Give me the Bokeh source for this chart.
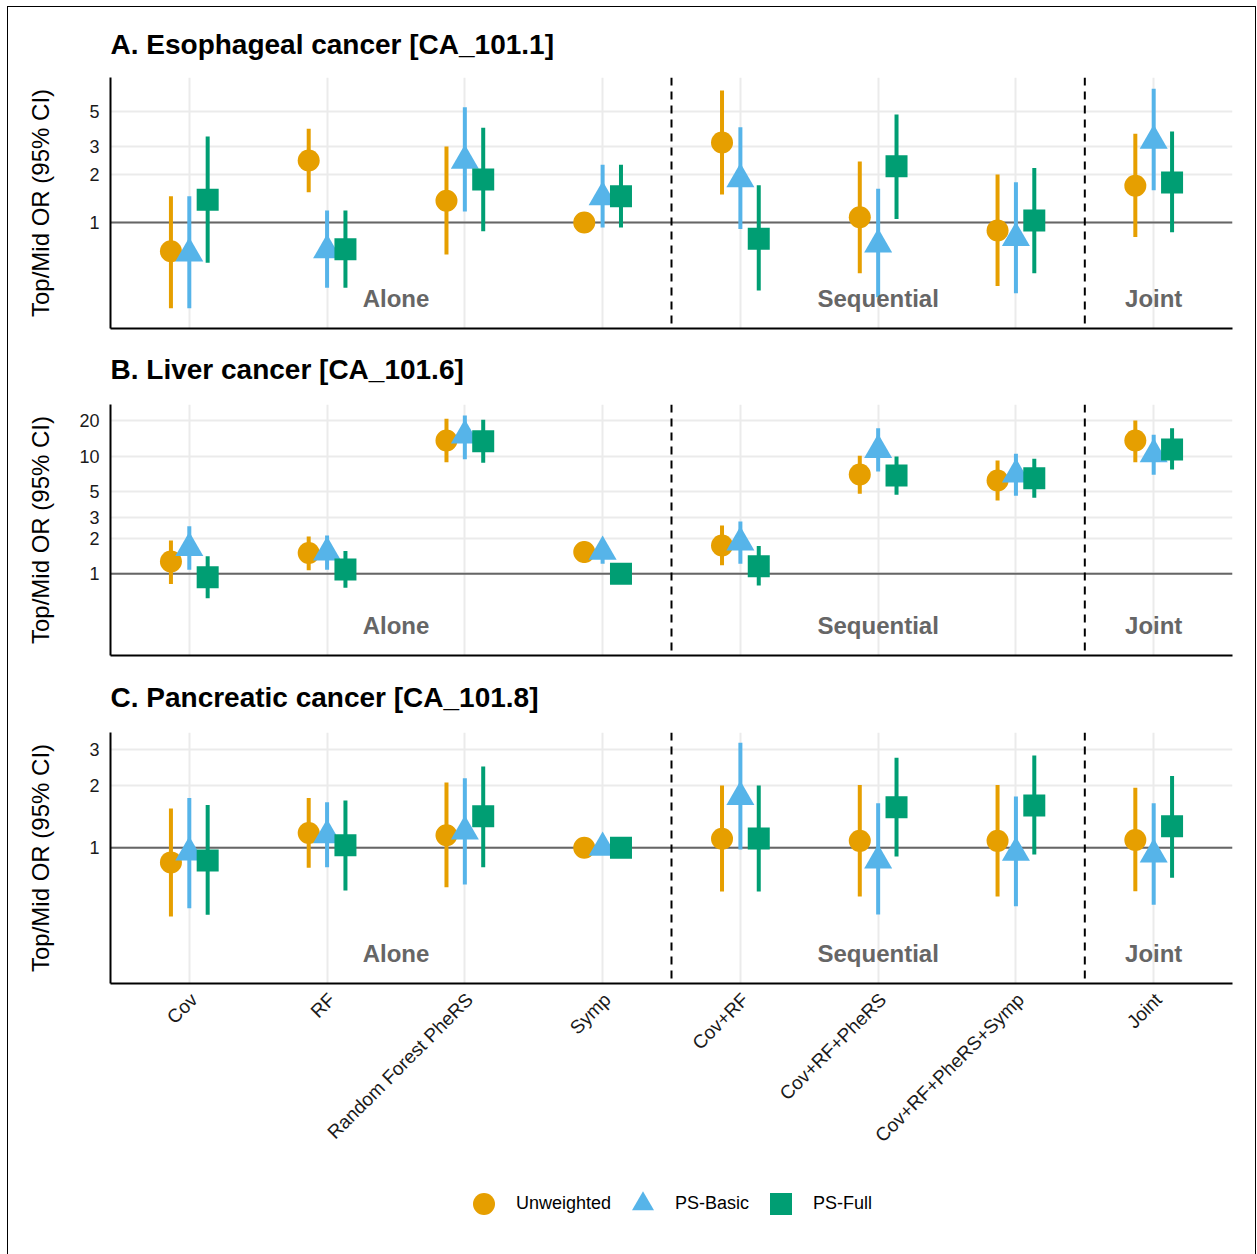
from math import pi
from bokeh.plotting import figure
from bokeh.models import (ColumnDataSource, Range1d, FixedTicker, Span, Label,
                          Legend, LegendItem, NumeralTickFormatter)
from bokeh.layouts import column
from bokeh.embed import file_html
from bokeh.resources import INLINE

FONT = "Liberation Sans"

categories = ["Cov", "RF", "Random Forest PheRS", "Symp", "Cov+RF",
              "Cov+RF+PheRS", "Cov+RF+PheRS+Symp", "Joint"]
groups = ["Alone", "Alone", "Alone", "Alone", "Sequential", "Sequential",
          "Sequential", "Joint"]
methods = ["Unweighted", "PS-Basic", "PS-Full"]
colors = ["#E69F00", "#56B4E9", "#009E73"]
markers = ["circle", "triangle", "square"]
marker_sizes = [22, 28, 22]

# ---- A. Esophageal cancer ----
esoph_unw_or = [0.66, 2.45, 1.37, 1.00, 3.17, 1.08, 0.89, 1.70]
esoph_unw_lo = [0.29, 1.55, 0.63, 1.00, 1.50, 0.48, 0.40, 0.81]
esoph_unw_hi = [1.46, 3.87, 3.00, 1.00, 6.72, 2.41, 2.00, 3.60]
esoph_bas_or = [0.64, 0.67, 2.44, 1.44, 1.87, 0.73, 0.80, 3.26]
esoph_bas_lo = [0.29, 0.39, 1.17, 0.93, 0.91, 0.34, 0.36, 1.59]
esoph_bas_hi = [1.46, 1.19, 5.28, 2.30, 3.96, 1.63, 1.79, 6.89]
esoph_ful_or = [1.39, 0.68, 1.86, 1.46, 0.79, 2.25, 1.03, 1.78]
esoph_ful_lo = [0.56, 0.39, 0.88, 0.93, 0.375, 1.05, 0.48, 0.87]
esoph_ful_hi = [3.46, 1.19, 3.92, 2.30, 1.71, 4.75, 2.20, 3.72]

# ---- B. Liver cancer ----
liver_unw_or = [1.27, 1.50, 13.6, 1.53, 1.74, 6.99, 6.21, 13.6]
liver_unw_lo = [0.82, 1.07, 8.9, 1.24, 1.18, 4.79, 4.20, 8.9]
liver_unw_hi = [1.92, 2.08, 20.8, 1.88, 2.58, 10.1, 9.19, 20.1]
liver_bas_or = [1.66, 1.52, 15.0, 1.54, 1.85, 11.3, 7.0, 10.4]
liver_bas_lo = [1.08, 1.08, 9.4, 1.22, 1.22, 7.41, 4.6, 6.95]
liver_bas_hi = [2.54, 2.12, 22.2, 1.90, 2.78, 17.3, 10.5, 15.2]
liver_ful_or = [0.935, 1.09, 13.4, 1.00, 1.16, 6.85, 6.5, 11.4]
liver_ful_lo = [0.62, 0.76, 8.8, 1.00, 0.795, 4.70, 4.43, 7.7]
liver_ful_hi = [1.41, 1.56, 20.4, 1.00, 1.72, 9.94, 9.5, 17.3]

# ---- C. Pancreatic cancer ----
panc_unw_or = [0.85, 1.18, 1.15, 1.00, 1.105, 1.08, 1.08, 1.09]
panc_unw_lo = [0.466, 0.80, 0.645, 1.00, 0.615, 0.582, 0.582, 0.617]
panc_unw_hi = [1.55, 1.74, 2.07, 1.00, 2.00, 2.01, 2.01, 1.95]
panc_bas_or = [0.95, 1.15, 1.20, 1.00, 1.76, 0.87, 0.946, 0.93]
panc_bas_lo = [0.51, 0.806, 0.665, 1.00, 0.98, 0.476, 0.522, 0.53]
panc_bas_hi = [1.74, 1.66, 2.17, 1.00, 3.22, 1.64, 1.77, 1.64]
panc_ful_or = [0.868, 1.03, 1.42, 1.00, 1.11, 1.57, 1.60, 1.27]
panc_ful_lo = [0.475, 0.622, 0.806, 1.00, 0.615, 0.908, 0.928, 0.716]
panc_ful_hi = [1.61, 1.69, 2.47, 1.00, 2.00, 2.72, 2.79, 2.22]

titles = ["A. Esophageal cancer [CA_101.1]", "B. Liver cancer [CA_101.6]",
          "C. Pancreatic cancer [CA_101.8]"]
y_ticks = [[1, 2, 3, 5], [1, 2, 3, 5, 10, 20], [1, 2, 3]]
y_limits = [(0.2165, 8.11), (0.202, 27.5), (0.221, 3.605)]

panel_data = [
    [(esoph_unw_or, esoph_unw_lo, esoph_unw_hi),
     (esoph_bas_or, esoph_bas_lo, esoph_bas_hi),
     (esoph_ful_or, esoph_ful_lo, esoph_ful_hi)],
    [(liver_unw_or, liver_unw_lo, liver_unw_hi),
     (liver_bas_or, liver_bas_lo, liver_bas_hi),
     (liver_ful_or, liver_ful_lo, liver_ful_hi)],
    [(panc_unw_or, panc_unw_lo, panc_unw_hi),
     (panc_bas_or, panc_bas_lo, panc_bas_hi),
     (panc_ful_or, panc_ful_lo, panc_ful_hi)],
]

positions = list(range(1, len(categories) + 1))
dodge_width = 0.4
label_shift = 0.035  # small nudge so rotated labels end just right of each tick

group_names = []
for g in groups:
    if g not in group_names:
        group_names.append(g)
group_centers = {g: sum(p for p, gg in zip(positions, groups) if gg == g) /
                 groups.count(g) for g in group_names}
boundaries = [positions[i] + 0.5 for i in range(len(groups) - 1)
              if groups[i] != groups[i + 1]]

border_top = [70, 74, 75]
border_bottom = [2, 2, 170]
title_standoff = [36, 40, 40]


def make_panel(idx):
    last = idx == 2
    p = figure(frame_width=1122, frame_height=251,
               x_range=Range1d(0.428, 8.572),
               y_range=Range1d(*y_limits[idx]), y_axis_type="log",
               output_backend="svg", toolbar_location=None,
               min_border_left=102, min_border_right=23,
               min_border_top=border_top[idx],
               min_border_bottom=border_bottom[idx])
    p.outline_line_color = None
    p.background_fill_color = "white"
    p.border_fill_color = "white"

    p.title.text = titles[idx]
    p.title.text_font = FONT
    p.title.text_font_size = "28px"
    p.title.text_font_style = "bold"
    p.title.text_color = "black"
    p.title.align = "left"
    p.title.standoff = title_standoff[idx]

    # axes
    p.yaxis.ticker = FixedTicker(ticks=y_ticks[idx])
    p.yaxis.formatter = NumeralTickFormatter(format="0")
    if last:
        shifted = [pos + label_shift for pos in positions]
        p.xaxis.ticker = FixedTicker(ticks=shifted)
        p.xaxis.major_label_overrides = {s: c for s, c in zip(shifted, categories)}
        p.xaxis.major_label_orientation = pi / 4
        p.xaxis.major_label_standoff = 13
    else:
        p.xaxis.ticker = FixedTicker(ticks=[])
    for ax in (p.xaxis, p.yaxis):
        ax.axis_line_color = "black"
        ax.axis_line_width = 2
        ax.major_tick_line_color = None
        ax.minor_tick_line_color = None
        ax.major_tick_out = 0
        ax.major_tick_in = 0
        ax.major_label_text_font = FONT
        ax.major_label_text_color = "#1a1a1a"
    p.xaxis.major_label_text_font_size = "19px"
    p.yaxis.major_label_text_font_size = "18px"
    p.yaxis.major_label_standoff = 11
    p.yaxis.axis_label = "Top/Mid OR (95% CI)"
    p.yaxis.axis_label_text_font = FONT
    p.yaxis.axis_label_text_font_size = "24px"
    p.yaxis.axis_label_text_font_style = "normal"
    p.yaxis.axis_label_text_color = "black"
    p.yaxis.axis_label_standoff = 22 if idx == 1 else 32

    p.xgrid.ticker = FixedTicker(ticks=positions)
    for g in (p.xgrid, p.ygrid):
        g.grid_line_color = "#EBEBEB"
        g.grid_line_width = 2
    p.ygrid.minor_grid_line_color = None

    p.add_layout(Span(location=1, dimension="width", line_color="#666666",
                      line_width=2, level="underlay"))
    for b in boundaries:
        p.add_layout(Span(location=b, dimension="height", line_color="black",
                          line_width=2, line_dash="8 6", level="underlay"))

    for k, (orv, lo, hi) in enumerate(panel_data[idx]):
        off = (k - 1) * dodge_width / 3
        src = ColumnDataSource(dict(x=[pp + off for pp in positions],
                                    y=orv, lo=lo, hi=hi))
        p.segment(x0="x", y0="lo", x1="x", y1="hi", source=src,
                  line_color=colors[k], line_width=4)
        p.scatter(x="x", y="y", source=src, marker=markers[k],
                  size=marker_sizes[k], fill_color=colors[k],
                  line_color=colors[k], line_width=0)

    for g in group_names:
        p.add_layout(Label(x=group_centers[g], y=30, y_units="screen", text=g,
                           text_align="center", text_baseline="alphabetic",
                           text_font=FONT, text_font_size="24px",
                           text_font_style="bold", text_color="#666666"))
    return p


panels = [make_panel(i) for i in range(3)]

# legend strip below the panels: its renderers reuse panel C's points, which
# fall outside this strip's ranges, so only the legend keys are shown
leg_fig = figure(frame_width=1247, frame_height=100,
                 x_range=Range1d(0, 0.5), y_range=Range1d(-2, -1),
                 output_backend="svg", toolbar_location=None, min_border=0,
                 x_axis_location=None, y_axis_location=None)
leg_fig.outline_line_color = None
leg_fig.xgrid.visible = False
leg_fig.ygrid.visible = False
leg_renderers = []
for k, (orv, lo, hi) in enumerate(panel_data[2]):
    leg_renderers.append(leg_fig.scatter(x=positions, y=orv, marker=markers[k],
                                         size=marker_sizes[k],
                                         fill_color=colors[k],
                                         line_color=colors[k], line_width=0))
legend = Legend(items=[LegendItem(label=m, renderers=[r])
                       for m, r in zip(methods, leg_renderers)],
                orientation="horizontal", location=(448, 25),
                glyph_width=55, glyph_height=55, label_standoff=5,
                spacing=4, label_text_font=FONT,
                label_text_font_size="18px", label_text_color="black",
                border_line_color=None, background_fill_alpha=0,
                margin=0, padding=0)
leg_fig.add_layout(legend, "center")

layout = column(*panels, leg_fig,
                styles={"border": "1px solid black",
                        "margin-left": "7px", "margin-top": "6px"})

open("out.html", "w").write(file_html(layout, INLINE))
